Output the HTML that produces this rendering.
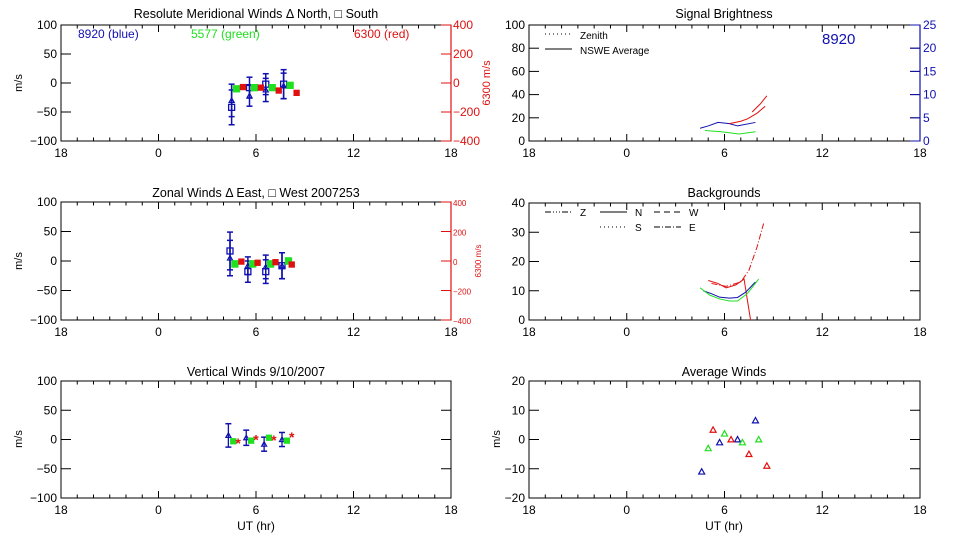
<!DOCTYPE html>
<html><head><meta charset="utf-8"><style>
html,body{margin:0;padding:0;background:#fff;}
svg{display:block;font-family:"Liberation Sans",sans-serif;}
</style></head><body>
<svg id="chart" width="960" height="540" viewBox="0 0 960 540" xmlns="http://www.w3.org/2000/svg"></svg>
<script>
// ---- data ----
const xTickLabels = ['18','0','6','12','18'];
// Meridional
const merBlueHr = [4.5, 5.6, 6.6, 7.7];
const merBlueSouth = [-42, -8, -2, -2];
const merBlueSouthErr = [30, 18, 18, 25];
const merBlueNorth = [-30, -22, -12, -5];
const merBlueNorthErr = [28, 18, 20, 22];
const merGreenHr = [4.8, 5.9, 7.0, 8.1];
const merGreen = [-10, -8, -8, -4];
const merRedHr = [5.2, 6.3, 7.4, 8.5];
const merRed = [-28, -32, -52, -68];
// Zonal
const zonBlueHr = [4.4, 5.5, 6.6, 7.6];
const zonBlueWest = [17, -18, -18, -8];
const zonBlueWestErr = [32, 18, 20, 22];
const zonBlueEast = [5, -8, -10, -8];
const zonBlueEastErr = [30, 15, 20, 22];
const zonGreenHr = [4.7, 5.8, 6.9, 8.0];
const zonGreen = [-5, -5, -5, 0];
const zonRedHr = [5.1, 6.1, 7.2, 8.2];
const zonRed = [-4, -12, -8, -24];
// Vertical
const verBlueHr = [4.3, 5.4, 6.5, 7.6];
const verBlue = [7, 3, -8, 0];
const verBlueErr = [20, 13, 12, 12];
const verGreenHr = [4.6, 5.7, 6.8, 7.9];
const verGreen = [-3, -2, 3, -2];
const verRedHr = [4.9, 6.0, 7.1, 8.2];
const verRed = [-4, 2, 1, 6];
// Brightness
const briBlueHr = [4.5, 5.0, 5.6, 6.3, 6.8, 7.9];
const briBlue = [11, 13, 16, 15, 13, 16];
const briGreenHr = [4.8, 5.8, 6.9, 7.9];
const briGreen = [9, 8, 6, 8];
const briRedHr = [6.3, 7.0, 7.4, 8.0, 8.5];
const briRed = [15, 17, 19, 24, 30];
const briRedZHr = [7.7, 8.2, 8.6];
const briRedZ = [25, 32, 39];
// Backgrounds
const bgRedHr = [5.0, 5.6, 6.1, 6.7, 7.2, 7.6];
const bgRed = [13.5, 12.5, 11, 12, 14, 0];
const bgRed2Hr = [5.2, 6.1, 7.0, 7.5, 8.0, 8.4];
const bgRed2 = [12.5, 11.5, 13, 17, 25, 33];
const bgBlueHr = [4.7, 5.2, 5.7, 6.3, 6.8, 7.3, 7.9];
const bgBlue = [10, 9, 7.8, 7.5, 7.7, 9.5, 13];
const bgGreenHr = [4.5, 5.1, 5.7, 6.3, 6.8, 7.4, 8.1];
const bgGreen = [11, 8.5, 7.2, 6.5, 6.5, 9, 14];
// Average winds
const avgBlueHr = [4.6, 5.7, 6.8, 7.9];
const avgBlue = [-11, -1, 0, 6.5];
const avgGreenHr = [5.0, 6.0, 7.1, 8.1];
const avgGreen = [-3, 2, -1, 0];
const avgRedHr = [5.3, 6.4, 7.5, 8.6];
const avgRed = [3.3, 0, -5, -9];

// ---- drawing ----
const svg = document.getElementById('chart');
const NS = 'http://www.w3.org/2000/svg';
const BLUE = '#1010b0', GREEN = '#20e020', RED = '#e01010';
function el(tag, attrs, parent) {
  const e = document.createElementNS(NS, tag);
  for (const k in attrs) e.setAttribute(k, attrs[k]);
  (parent || svg).appendChild(e);
  return e;
}
function txt(s, x, y, attrs, parent) {
  const t = el('text', Object.assign({x: x, y: y, 'font-size': 12, fill: '#000'}, attrs || {}), parent);
  t.textContent = s;
  return t;
}
function panel(name, x0, x1, y0, y1, ymin, ymax, yticks) {
  const g = el('g', {});
  
  
  const P = {g: g, x0: x0, x1: x1, y0: y0, y1: y1,
    X: h => x0 + (h + 6) / 24 * (x1 - x0),
    Y: v => y1 - (v - ymin) / (ymax - ymin) * (y1 - y0)};
  el('rect', {x: x0, y: y0, width: x1 - x0, height: y1 - y0, fill: 'none', stroke: '#000', 'stroke-width': 1}, g);
  for (let h = -6; h <= 18; h++) {
    const x = P.X(h), L = (h % 6 === 0) ? 7 : 3.5;
    el('line', {x1: x, y1: y1, x2: x, y2: y1 - L, stroke: '#000'}, g);
    el('line', {x1: x, y1: y0, x2: x, y2: y0 + L, stroke: '#000'}, g);
  }
  xTickLabels.forEach((s, i) => {
    const t = txt(s, P.X(-6 + i * 6), y1 + 16, {'text-anchor': 'middle'}, g);
    
    
  });
  yticks.forEach(v => {
    const y = P.Y(v);
    el('line', {x1: x0, y1: y, x2: x0 + 10, y2: y, stroke: '#000'}, g);
    el('line', {x1: x1, y1: y, x2: x1 - 10, y2: y, stroke: '#000'}, g);
    const t = txt(String(v).replace('-', '\u2212'), x0 - 4, y + 4, {'text-anchor': 'end'}, g);
    
    
  });
  return P;
}
function title(s, x, y, name) {
  const t = txt(s, x, y, {'text-anchor': 'middle', 'font-size': 12.5});
  
  
}
function ylab(s, x, y, color, size) {
  const t = txt(s, x, y, {'text-anchor': 'middle', fill: color || '#000', 'font-size': size || 11, transform: 'rotate(-90 ' + x + ' ' + y + ')'});
  
  
}
function errbar(P, h, v, e, color, w) {
  const x = P.X(h);
  const l = el('line', {x1: x, y1: P.Y(v - e), x2: x, y2: P.Y(v + e), stroke: color, 'stroke-width': w || 1.5}, P.g);
  
  
  el('line', {x1: x - 3, y1: P.Y(v - e), x2: x + 3, y2: P.Y(v - e), stroke: color, 'stroke-width': 1.5}, P.g);
  el('line', {x1: x - 3, y1: P.Y(v + e), x2: x + 3, y2: P.Y(v + e), stroke: color, 'stroke-width': 1.5}, P.g);
}
function sq(P, h, v, color, s, fill) {
  const r = el('rect', {x: P.X(h) - s, y: P.Y(v) - s, width: 2 * s, height: 2 * s, fill: fill || 'none', stroke: color, 'stroke-width': 1.3}, P.g);
  
  
}
function tri(P, h, v, color, s) {
  const x = P.X(h), y = P.Y(v);
  const p = el('polygon', {points: [x, y - s, x - s, y + s * 0.8, x + s, y + s * 0.8].join(' '), fill: 'none', stroke: color, 'stroke-width': 1.2}, P.g);
  
  
}
function line(P, hs, vs, color, dash, name) {
  const p = el('polyline', {points: hs.map((h, i) => P.X(h) + ',' + P.Y(vs[i])).join(' '), fill: 'none', stroke: color, 'stroke-width': 1, 'stroke-dasharray': dash || 'none'}, P.g);
  
  
}
function redAxis(P, labels, size, name) {
  const g = el('g', {});
  
  
  el('line', {x1: P.x1, y1: P.y0, x2: P.x1, y2: P.y1, stroke: RED, 'stroke-width': 1.2}, g);
  labels.forEach((v, i) => {
    const y = P.y0 + i / (labels.length - 1) * (P.y1 - P.y0);
    el('line', {x1: P.x1, y1: y, x2: P.x1 - 10, y2: y, stroke: RED}, g);
    txt(String(v).replace('-', '\u2212'), P.x1 + 2, y + 4, {fill: RED, 'font-size': size}, g);
  });
}

// Meridional
const M = panel('meridional-winds-panel', 61, 451, 25, 141, -100, 100, [100, 50, 0, -50, -100]);
redAxis(M, [400, 200, 0, -200, -400], 12, 'red-right-axis');
title('Resolute Meridional Winds \u0394 North, \u25A1 South', 256, 18, 'meridional-title');
ylab('m/s', 22, 83);
ylab('6300 m/s', 490, 83, RED, 11);
txt('8920 (blue)', 78, 38, {fill: BLUE});
txt('5577 (green)', 191, 38, {fill: GREEN});
txt('6300 (red)', 354, 38, {fill: RED});
merBlueHr.forEach((h, i) => {
  errbar(M, h, merBlueSouth[i], merBlueSouthErr[i], BLUE);
  errbar(M, h, merBlueNorth[i], merBlueNorthErr[i], BLUE);
  sq(M, h, merBlueSouth[i], BLUE, 3);
  tri(M, h, merBlueNorth[i], BLUE, 2.5);
});
merGreenHr.forEach((h, i) => { errbar(M, h, merGreen[i], 4, GREEN); sq(M, h, merGreen[i], GREEN, 3, GREEN); });
merRedHr.forEach((h, i) => { sq(M, h, merRed[i] / 4, RED, 2.5, RED); });

// Zonal
const Z = panel('zonal-winds-panel', 61, 451, 202, 320, -100, 100, [100, 50, 0, -50, -100]);
redAxis(Z, [400, 200, 0, -200, -400], 8, 'red-right-axis');
title('Zonal Winds \u0394 East, \u25A1 West 2007253', 256, 197, 'zonal-title');
ylab('m/s', 22, 261);
ylab('6300 m/s', 481, 261, RED, 8);
zonBlueHr.forEach((h, i) => {
  errbar(Z, h, zonBlueWest[i], zonBlueWestErr[i], BLUE);
  errbar(Z, h, zonBlueEast[i], zonBlueEastErr[i], BLUE);
  sq(Z, h, zonBlueWest[i], BLUE, 3);
  tri(Z, h, zonBlueEast[i], BLUE, 2.5);
});
zonGreenHr.forEach((h, i) => { errbar(Z, h, zonGreen[i], 5, GREEN); sq(Z, h, zonGreen[i], GREEN, 3, GREEN); });
zonRedHr.forEach((h, i) => { sq(Z, h, zonRed[i] / 4, RED, 2.5, RED); });

// Vertical
const V = panel('vertical-winds-panel', 61, 451, 381, 498, -100, 100, [100, 50, 0, -50, -100]);
title('Vertical Winds 9/10/2007', 256, 376, 'vertical-title');
ylab('m/s', 22, 439);
txt('UT (hr)', 256, 530, {'text-anchor': 'middle'});
verBlueHr.forEach((h, i) => { errbar(V, h, verBlue[i], verBlueErr[i], BLUE, 1.3); tri(V, h, verBlue[i], BLUE, 2.5); });
verGreenHr.forEach((h, i) => { errbar(V, h, verGreen[i], 3, GREEN); sq(V, h, verGreen[i], GREEN, 2.5, GREEN); });
verRedHr.forEach((h, i) => { txt('*', V.X(h), V.Y(verRed[i]) + 6, {fill: RED, 'font-size': 14, 'font-weight': 'bold', 'text-anchor': 'middle'}, V.g); });

// Brightness
const B = panel('signal-brightness-panel', 529, 920, 25, 141, 0, 100, [100, 80, 60, 40, 20, 0]);
title('Signal Brightness', 724, 18, 'brightness-title');
(function () {
  const g = el('g', {});
  
  
  el('line', {x1: 920, y1: 25, x2: 920, y2: 141, stroke: BLUE, 'stroke-width': 1.2}, g);
  [25, 20, 15, 10, 5, 0].forEach((v, i) => {
    const y = 25 + i / 5 * 116;
    el('line', {x1: 920, y1: y, x2: 910, y2: y, stroke: BLUE}, g);
    txt(String(v), 923, y + 4, {fill: BLUE}, g);
  });
})();
el('line', {x1: 545, y1: 34, x2: 572, y2: 34, stroke: '#000', 'stroke-dasharray': '1,3'});
txt('Zenith', 580, 39, {'font-size': 10});
el('line', {x1: 545, y1: 49, x2: 572, y2: 49, stroke: '#000'});
txt('NSWE Average', 580, 54, {'font-size': 10});
txt('8920', 822, 44, {fill: BLUE, 'font-size': 15});
line(B, briBlueHr, briBlue, BLUE, null, 'brightness-blue-line');
line(B, briGreenHr, briGreen, GREEN, null, 'brightness-green-line');
line(B, briRedHr, briRed, RED, null, 'brightness-red-line');
line(B, briRedZHr, briRedZ, RED, null, 'brightness-red-zenith-line');

// Backgrounds
const G = panel('backgrounds-panel', 529, 920, 203, 320, 0, 40, [40, 30, 20, 10, 0]);
title('Backgrounds', 724, 197, 'backgrounds-title');
[['Z', 545, 212, '6,2,1,2,1,2,1,2'], ['N', 600, 212, 'none'], ['W', 654, 212, '6,4'], ['S', 600, 227, '1,3'], ['E', 654, 227, '6,2,1,2']].forEach(l => {
  el('line', {x1: l[1], y1: l[2], x2: l[1] + 27, y2: l[2], stroke: '#000', 'stroke-dasharray': l[3]});
  const t = txt(l[0], l[1] + 35, l[2] + 4, {'font-size': 10});
  
  
});
line(G, bgRedHr, bgRed, RED, null, 'background-red-line');
line(G, bgRed2Hr, bgRed2, RED, '6,2,1,2', 'background-red-line-2');
line(G, bgBlueHr, bgBlue, BLUE, null, 'background-blue-line');
line(G, bgGreenHr, bgGreen, GREEN, null, 'background-green-line');

// Average winds
const A = panel('average-winds-panel', 529, 920, 381, 498, -20, 20, [20, 10, 0, -10, -20]);
title('Average Winds', 724, 376, 'average-title');
ylab('m/s', 500, 439);
txt('UT (hr)', 724, 530, {'text-anchor': 'middle'});
avgBlueHr.forEach((h, i) => tri(A, h, avgBlue[i], BLUE, 3));
avgGreenHr.forEach((h, i) => tri(A, h, avgGreen[i], GREEN, 3));
avgRedHr.forEach((h, i) => tri(A, h, avgRed[i], RED, 3));
</script>
</body></html>
